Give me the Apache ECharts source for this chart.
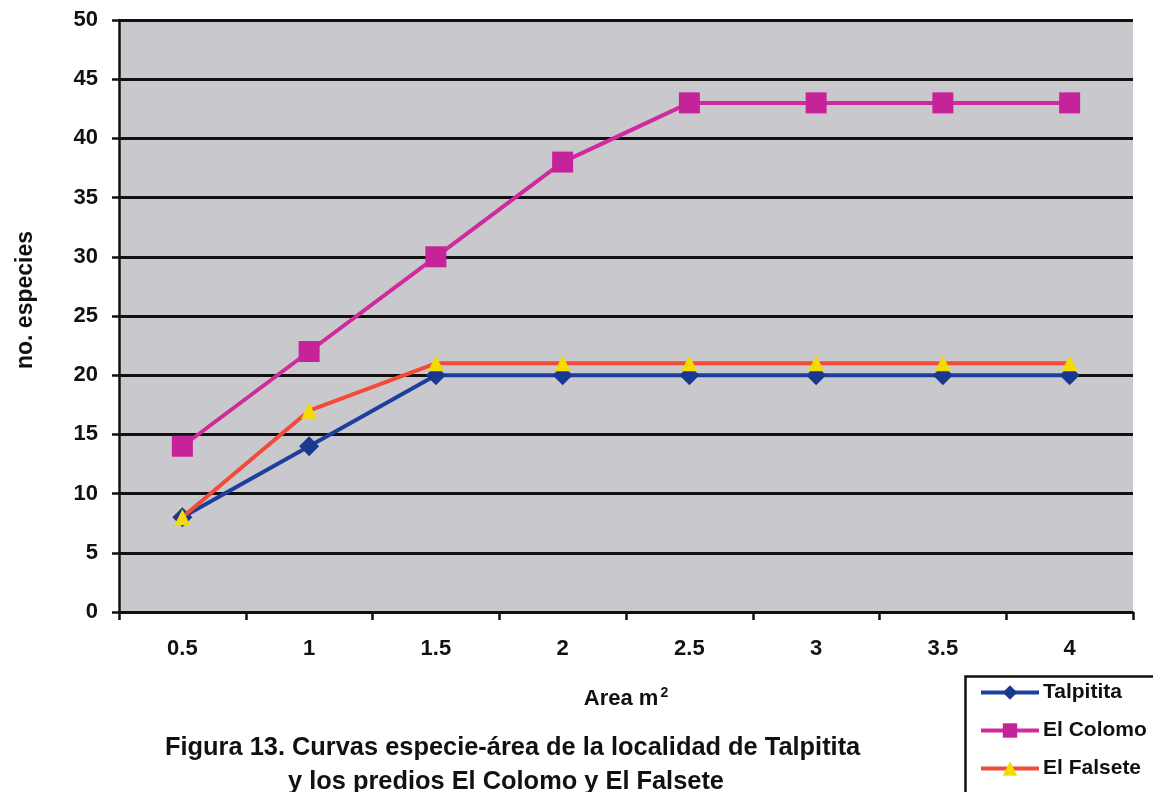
<!DOCTYPE html>
<html><head><meta charset="utf-8">
<script src="https://cdn.jsdelivr.net/npm/echarts@6/dist/echarts.min.js"></script>
<style>html,body{margin:0;padding:0;background:#fff}#c{width:1153px;height:792px}</style>
</head><body><div id="c"></div>
<script>
const categories = ['0.5','1','1.5','2','2.5','3','3.5','4'];
const talpitita = [8,14,20,20,20,20,20,20];
const elColomo = [14,22,30,38,43,43,43,43];
const elFalsete = [8,17,21,21,21,21,21,21];
const yTicks = [0,5,10,15,20,25,30,35,40,45,50];
const seriesNames = ['Talpitita','El Colomo','El Falsete'];

const F = '"Liberation Sans", Arial, sans-serif';
const legendTops = [682,720,758];
const legends = seriesNames.map((n,i)=>({
  orient:'vertical',left:979,top:legendTops[i],itemWidth:58,itemHeight:18,padding:0,
  lineStyle:{width:4},
  textStyle:{color:'#111',fontSize:21,fontWeight:'bold',fontFamily:F,padding:[0,0,0,-1]},
  data:[n]
}));
const chart = echarts.init(document.getElementById('c'));
chart.setOption({
  animation:false,
  backgroundColor:'#fff',
  textStyle:{fontFamily:F},
  grid:{left:119,right:20,top:20,bottom:180,show:true,backgroundColor:'#c9c9cd',borderWidth:0},
  xAxis:{type:'category',data:categories,boundaryGap:true,
    axisLine:{lineStyle:{color:'#111',width:2.5}},
    axisTick:{show:true,length:8,lineStyle:{color:'#111',width:2.5}},
    axisLabel:{color:'#111',fontSize:22,fontWeight:'bold',margin:26,fontFamily:F},
    name:'{a|Area m}{s|2}',nameLocation:'middle',nameGap:74,
    nameTextStyle:{color:'#111',fontSize:22,fontWeight:'bold',fontFamily:F,
      rich:{a:{fontSize:22,fontWeight:'bold',color:'#111',fontFamily:F,verticalAlign:'bottom'},
            s:{fontSize:14,fontWeight:'bold',color:'#111',fontFamily:F,verticalAlign:'top',padding:[0,0,10,2]}}}},
  yAxis:{type:'value',min:yTicks[0],max:yTicks[yTicks.length-1],interval:5,
    axisLine:{show:true,lineStyle:{color:'#111',width:2.5}},
    axisTick:{show:true,length:7,lineStyle:{color:'#111',width:2.5}},
    splitLine:{show:true,lineStyle:{color:'#111',width:3}},
    axisLabel:{color:'#111',fontSize:22,fontWeight:'bold',margin:21,fontFamily:F}},
  legend:legends,
  graphic:[
    {type:'rect',left:963,top:674,shape:{width:200,height:130},style:{fill:'none',stroke:'#111',lineWidth:2.5},z:-1},
    {type:'text',left:165,top:735,style:{text:'Figura 13. Curvas especie-área de la localidad de Talpitita',
      fill:'#111',font:'bold 25.4px '+F}},
    {type:'text',left:288,top:769,style:{text:'y los predios El Colomo y El Falsete',
      fill:'#111',font:'bold 25.4px '+F}},
    {type:'text',x:26,y:300,rotation:Math.PI/2,style:{text:'no. especies',
      textAlign:'center',textVerticalAlign:'middle',fill:'#111',font:'bold 23px '+F}}
  ],
  series:[
    {name:seriesNames[0],type:'line',data:talpitita,symbol:'diamond',symbolSize:20,
      lineStyle:{color:'#1f3f9e',width:4},itemStyle:{color:'#1b3890'},z:3},
    {name:seriesNames[1],type:'line',data:elColomo,symbol:'rect',symbolSize:21,
      lineStyle:{color:'#d02a9f',width:4},itemStyle:{color:'#c6239a'},z:2},
    {name:seriesNames[2],type:'line',data:elFalsete,symbol:'triangle',symbolSize:16,
      lineStyle:{color:'#f04c38',width:4},itemStyle:{color:'#f5dc00'},z:4}
  ]
});
</script></body></html>
